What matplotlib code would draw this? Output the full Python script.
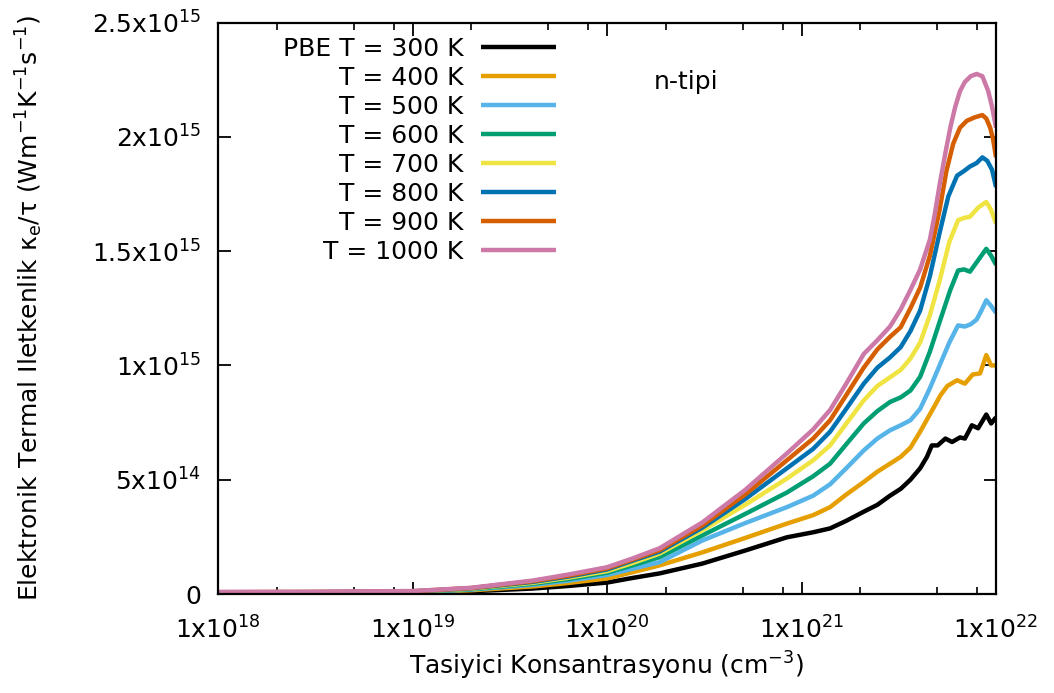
import numpy as np
import matplotlib
matplotlib.use("Agg")
import matplotlib.pyplot as plt
from matplotlib.ticker import FixedLocator, FixedFormatter, LogLocator, NullFormatter, NullLocator

# log10 carrier concentration (cm^-3), common part of every curve
logn_base = [18.0, 18.5, 19.0, 19.3, 19.62, 19.8, 20.0, 20.13, 20.27, 20.49,
             20.71, 20.925, 21.06, 21.147, 21.23, 21.32, 21.39, 21.455, 21.51]

# kappa_e/tau in units of 1e15 W m^-1 K^-1 s^-1
k300_base = [0.002, 0.003, 0.005, 0.012, 0.024, 0.035, 0.05, 0.07, 0.09, 0.133,
             0.19, 0.248, 0.27, 0.287, 0.32, 0.36, 0.39, 0.43, 0.46]
k300_tail_x = [21.56, 21.61, 21.645, 21.67, 21.70, 21.74, 21.774, 21.815,
               21.84, 21.876, 21.908, 21.95, 21.975, 22.0]
k300_tail_y = [0.50, 0.55, 0.60, 0.65, 0.65, 0.68, 0.665, 0.685,
               0.68, 0.738, 0.725, 0.785, 0.746, 0.773]

k400_base = [0.003, 0.004, 0.007, 0.016, 0.033, 0.048, 0.068, 0.095, 0.125, 0.182,
             0.245, 0.308, 0.345, 0.38, 0.435, 0.49, 0.535, 0.57, 0.60]
k400_tail_x = [21.56, 21.61, 21.676, 21.715, 21.75, 21.80, 21.84, 21.88,
               21.918, 21.95, 21.975, 22.0]
k400_tail_y = [0.64, 0.71, 0.81, 0.87, 0.91, 0.935, 0.92, 0.96,
               0.965, 1.045, 1.0, 1.0]

k500_base = [0.004, 0.005, 0.008, 0.019, 0.040, 0.058, 0.083, 0.11, 0.139, 0.234,
             0.31, 0.38, 0.43, 0.48, 0.55, 0.628, 0.68, 0.716, 0.738]
k500_tail_x = [21.56, 21.61, 21.66, 21.71, 21.76, 21.805, 21.84, 21.87,
               21.90, 21.925, 21.95, 21.975, 22.0]
k500_tail_y = [0.76, 0.81, 0.90, 1.0, 1.10, 1.175, 1.17, 1.18,
               1.20, 1.24, 1.285, 1.26, 1.23]

k600_base = [0.005, 0.006, 0.009, 0.021, 0.045, 0.065, 0.093, 0.125, 0.161, 0.256,
             0.35, 0.444, 0.515, 0.57, 0.655, 0.746, 0.80, 0.84, 0.86]
k600_tail_x = [21.56, 21.61, 21.66, 21.71, 21.765, 21.805, 21.835, 21.866,
               21.908, 21.95, 21.975, 22.0]
k600_tail_y = [0.89, 0.95, 1.06, 1.19, 1.33, 1.415, 1.42, 1.41,
               1.46, 1.51, 1.48, 1.44]

k700_base = [0.006, 0.007, 0.010, 0.023, 0.049, 0.071, 0.10, 0.135, 0.177, 0.278,
             0.39, 0.505, 0.585, 0.65, 0.745, 0.847, 0.91, 0.948, 0.98]
k700_tail_x = [21.56, 21.61, 21.66, 21.71, 21.76, 21.805, 21.835, 21.866,
               21.908, 21.95, 21.975, 22.0]
k700_tail_y = [1.03, 1.10, 1.22, 1.37, 1.54, 1.635, 1.645, 1.65,
               1.69, 1.715, 1.68, 1.62]

k800_base = [0.007, 0.008, 0.011, 0.025, 0.053, 0.076, 0.107, 0.145, 0.185, 0.29,
             0.415, 0.55, 0.635, 0.71, 0.81, 0.92, 0.99, 1.035, 1.08]
k800_tail_x = [21.56, 21.61, 21.66, 21.71, 21.755, 21.80, 21.835, 21.866,
               21.90, 21.93, 21.955, 21.98, 22.0]
k800_tail_y = [1.15, 1.24, 1.39, 1.58, 1.74, 1.83, 1.85, 1.87,
               1.885, 1.91, 1.895, 1.855, 1.78]

k900_base = [0.008, 0.009, 0.012, 0.026, 0.056, 0.08, 0.112, 0.15, 0.192, 0.30,
             0.435, 0.585, 0.68, 0.76, 0.87, 0.99, 1.07, 1.125, 1.167]
k900_tail_x = [21.56, 21.61, 21.66, 21.71, 21.745, 21.78, 21.815, 21.85,
               21.89, 21.93, 21.95, 21.97, 21.985, 22.0]
k900_tail_y = [1.25, 1.34, 1.48, 1.68, 1.85, 1.97, 2.04, 2.07,
               2.085, 2.095, 2.08, 2.04, 1.99, 1.91]

k1000_base = [0.009, 0.010, 0.013, 0.027, 0.059, 0.085, 0.117, 0.155, 0.20, 0.313,
              0.455, 0.615, 0.72, 0.805, 0.92, 1.05, 1.11, 1.17, 1.245]
k1000_tail_x = [21.56, 21.61, 21.66, 21.685, 21.71, 21.74, 21.765, 21.79,
                21.815, 21.84, 21.87, 21.90, 21.93, 21.96, 21.98, 22.0]
k1000_tail_y = [1.33, 1.42, 1.55, 1.66, 1.79, 1.93, 2.04, 2.13,
                2.2, 2.24, 2.265, 2.275, 2.265, 2.2, 2.13, 2.04]

labels = ["PBE T = 300 K", "T = 400 K", "T = 500 K", "T = 600 K",
          "T = 700 K", "T = 800 K", "T = 900 K", "T = 1000 K"]
colors = ["#000000", "#E69F00", "#56B4E9", "#009E73",
          "#F0E442", "#0072B2", "#D55E00", "#CC79A7"]

curves = [
    (k300_base, k300_tail_x, k300_tail_y),
    (k400_base, k400_tail_x, k400_tail_y),
    (k500_base, k500_tail_x, k500_tail_y),
    (k600_base, k600_tail_x, k600_tail_y),
    (k700_base, k700_tail_x, k700_tail_y),
    (k800_base, k800_tail_x, k800_tail_y),
    (k900_base, k900_tail_x, k900_tail_y),
    (k1000_base, k1000_tail_x, k1000_tail_y),
]

yticks = [0, 5e14, 1e15, 1.5e15, 2e15, 2.5e15]
ytick_labels = ["0", r"5x10$^{14}$", r"1x10$^{15}$", r"1.5x10$^{15}$",
                r"2x10$^{15}$", r"2.5x10$^{15}$"]
xticks = [1e18, 1e19, 1e20, 1e21, 1e22]
xtick_labels = [r"1x10$^{18}$", r"1x10$^{19}$", r"1x10$^{20}$",
                r"1x10$^{21}$", r"1x10$^{22}$"]

FS = 18
plt.rcParams["font.family"] = ["DejaVu Sans"]
plt.rcParams["mathtext.fontset"] = "dejavusans"

fig = plt.figure(figsize=(10.54, 6.93), dpi=100)
ax = fig.add_axes([218 / 1054, 1 - 594 / 693, 778 / 1054, 571.5 / 693])

for (base, tx, ty), lab, col in zip(curves, labels, colors):
    x = 10 ** np.array(logn_base + tx)
    y = np.array(base + ty) * 1e15
    ax.plot(x, y, color=col, lw=3.2, label=lab,
            solid_joinstyle="round", solid_capstyle="butt")

ax.set_xscale("log")
ax.set_xlim(1e18, 1e22)
ax.set_ylim(0, 2.5e15)

ax.xaxis.set_major_locator(FixedLocator(xticks))
ax.xaxis.set_major_formatter(FixedFormatter(xtick_labels))
ax.xaxis.set_minor_locator(LogLocator(base=10, subs=(2, 5, 8)))
ax.xaxis.set_minor_formatter(NullFormatter())
ax.yaxis.set_major_locator(FixedLocator(yticks))
ax.yaxis.set_major_formatter(FixedFormatter(ytick_labels))
ax.yaxis.set_minor_locator(NullLocator())

ax.tick_params(which="both", direction="in", top=True, right=True, labelsize=FS)
ax.tick_params(axis="x", which="major", pad=16)
ax.tick_params(axis="y", which="major", pad=12)
ax.tick_params(which="major", length=9, width=1.3)
ax.tick_params(which="minor", length=5, width=1.2)
for sp in ax.spines.values():
    sp.set_linewidth(1.6)

ax.set_xlabel(r"Tasiyici Konsantrasyonu (cm$^{-3}$)", fontsize=FS)
ax.xaxis.set_label_coords(0.5, -0.098)
ax.set_ylabel(r"Elektronik Termal Iletkenlik κ$_{\rm e}$/τ "
              r"(Wm$^{-1}$K$^{-1}$s$^{-1}$)", fontsize=FS)
ax.yaxis.set_label_coords(-0.222, 0.5)

ax.text((686 - 218) / 778, (594 - 82) / 571.5, "n-tipi", fontsize=FS,
        ha="center", va="center", transform=ax.transAxes)

ax.legend(loc="upper right", bbox_to_anchor=((556 - 218) / 778, 0.975),
          frameon=False, markerfirst=False, alignment="right",
          handlelength=3.0, handletextpad=0.7, labelspacing=0.2,
          borderpad=0, borderaxespad=0, fontsize=FS)

fig.savefig("out.png", dpi=100)
